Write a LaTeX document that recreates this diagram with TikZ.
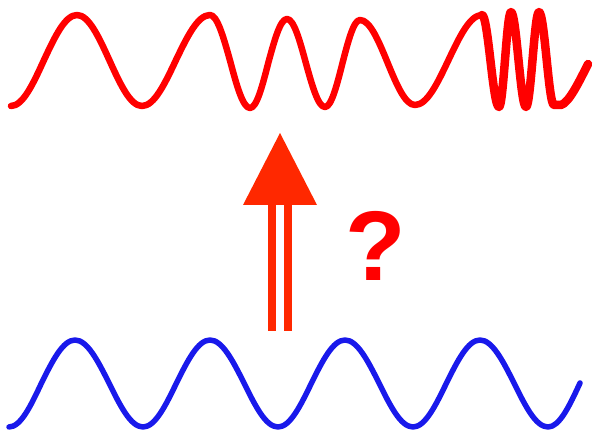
\documentclass[tikz,border=0pt]{standalone}
\usepackage{fontspec}
\setmainfont{Liberation Sans}
\definecolor{wavered}{RGB}{255,0,0}
\definecolor{waveblue}{RGB}{25,25,235}
\definecolor{arrowred}{RGB}{255,40,0}
\begin{document}
\begin{tikzpicture}[x=1pt,y=-1pt,
  redwave/.style={draw=wavered,line width=6.5pt,line cap=round,line join=round},
  redfast/.style={draw=wavered,line width=8.5pt,line cap=round,line join=round},
  bluewave/.style={draw=waveblue,line width=5.5pt,line cap=round,line join=round},
  arrowpart/.style={fill=arrowred,draw=none},
  qmark/.style={text=wavered,font=\fontsize{99}{99}\selectfont\bfseries,inner sep=0pt}]
\useasboundingbox (0,0) rectangle (594,438);
% red (upper) wave
\draw[redwave] (11,106) cos (44,60) sin (77,15) cos (109.5,60.5) sin (142,106)
  cos (176,60) sin (210,15) cos (230,60.5) sin (250,108)
  cos (268.5,62) sin (287,19) cos (306,63.5) sin (325,107)
  cos (342.5,63) sin (360,20) cos (387.5,62.5) sin (415,105)
  cos (448.5,60) sin (482,15);
% fast part of the red wave
\draw[redfast] (482,15) cos (490.5,61) sin (499,107)
  cos (505,60) sin (511,12) cos (518.5,60) sin (526,107)
  cos (532.5,60) sin (539,12) cos (546.5,58) sin (554,105) -- (561,105)
  .. controls (569,103) and (580,80) .. (588,64);
% blue (lower) wave
\draw[bluewave] (9,427) cos (41.5,383) sin (75,340) cos (109,383) sin (143,427)
  cos (176.5,383) sin (210,340) cos (244,383) sin (278,427)
  cos (311.5,383) sin (345,340) cos (379,383) sin (413,427)
  cos (446.5,383) sin (480,340) cos (514,383) sin (548,427) cos (580,383);
% double-shafted arrow
\fill[arrowpart] (243,205) -- (280,133) -- (317,205) -- cycle;
\fill[arrowpart] (268,204) rectangle (276,331);
\fill[arrowpart] (284,204) rectangle (292,331);
% question mark
\node[qmark] (q) at (376,246) {?};
\end{tikzpicture}
\end{document}
